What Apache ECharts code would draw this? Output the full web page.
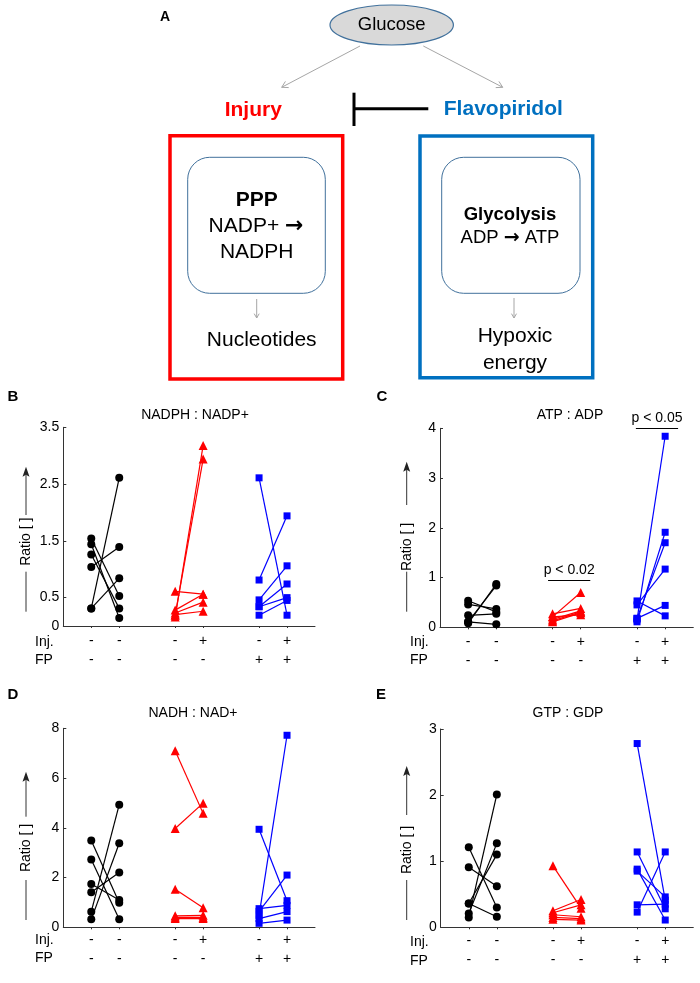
<!DOCTYPE html>
<html>
<head>
<meta charset="utf-8">
<script src="https://cdn.jsdelivr.net/npm/echarts@6/dist/echarts.min.js"></script>
<style>html,body{margin:0;padding:0;background:#fff}#c{width:700px;height:983px}</style>
</head>
<body>
<div id="c"></div>
<script>
// ---- Data ----
const positions = [1, 2, 4, 5, 7, 8];
const injSigns = ['-', '-', '-', '+', '-', '+'];
const fpSigns  = ['-', '-', '-', '-', '+', '+'];
const panelTitles = ['NADPH : NADP+', 'ATP : ADP', 'NADH : NAD+', 'GTP : GDP'];

// Panel B: NADPH : NADP+
const B_ctrl_pre = [0.31, 1.04, 0.31, 1.54, 1.44, 1.26];
const B_ctrl_post = [2.61, 1.39, 0.84, 0.53, 0.14, 0.31];
const B_inj_pre = [0.16, 0.19, 0.61, 0.28, 0.23, 0.20];
const B_inj_post = [3.18, 2.94, 0.56, 0.56, 0.42, 0.26];
const B_fp_pre = [2.61, 0.81, 0.46, 0.34, 0.34, 0.19];
const B_fp_post = [0.19, 1.94, 1.06, 0.74, 0.50, 0.45];
const B_ticks = [0, 0.5, 1.5, 2.5, 3.5];

// Panel C: ATP : ADP
const C_ctrl_pre = [0.08, 0.11, 0.535, 0.46, 0.24, 0.11];
const C_ctrl_post = [0.87, 0.84, 0.31, 0.37, 0.27, 0.06];
const C_inj_pre = [0.21, 0.27, 0.16, 0.11, 0.21, 0.13];
const C_inj_post = [0.70, 0.38, 0.33, 0.29, 0.25, 0.31];
const C_fp_pre = [0.15, 0.11, 0.18, 0.45, 0.53, 0.18];
const C_fp_post = [3.84, 1.91, 1.70, 1.17, 0.23, 0.44];
const C_ticks = [0, 1, 2, 3, 4];

// Panel D: NADH : NAD+
const D_ctrl_pre = [0.63, 0.32, 1.41, 3.49, 2.73, 1.74];
const D_ctrl_post = [4.93, 3.38, 2.20, 0.99, 0.32, 1.10];
const D_inj_pre = [7.10, 3.97, 1.53, 0.46, 0.40, 0.35];
const D_inj_post = [4.58, 4.99, 0.79, 0.48, 0.40, 0.35];
const D_fp_pre = [3.94, 0.48, 0.64, 0.75, 0.35, 0.16];
const D_fp_post = [1.07, 7.72, 2.10, 0.88, 0.63, 0.29];
const D_ticks = [0, 2, 4, 6, 8];

// Panel E: GTP : GDP
const E_ctrl_pre = [0.15, 0.21, 0.36, 1.21, 0.91, 0.36];
const E_ctrl_post = [2.01, 1.27, 1.10, 0.30, 0.62, 0.16];
const E_inj_pre = [0.93, 0.25, 0.22, 0.19, 0.15, 0.12];
const E_inj_post = [0.29, 0.42, 0.34, 0.16, 0.13, 0.11];
const E_fp_pre = [2.78, 1.14, 0.88, 0.85, 0.23, 0.34];
const E_fp_post = [0.41, 0.28, 0.11, 0.46, 1.14, 0.35];
const E_ticks = [0, 1, 2, 3];

// p-value annotations (panel C)
const pLabels = ['p < 0.02', 'p < 0.05'];

// ---- Build ----
const FONT = "'Liberation Sans', Arial, Helvetica, sans-serif";
const ARROWFONT = "'DejaVu Sans', sans-serif";
const chart = echarts.init(document.getElementById('c'), null, {renderer: 'canvas'});

const panels = [
  {grid: {left: 63.3, right: 385, top: 427.3, bottom: 357}, ticks: B_ticks, margin: 6,
   groups: [[B_ctrl_pre, B_ctrl_post], [B_inj_pre, B_inj_post], [B_fp_pre, B_fp_post]]},
  {grid: {left: 440, right: 6.7, top: 428.3, bottom: 355.7}, ticks: C_ticks, margin: 6,
   groups: [[C_ctrl_pre, C_ctrl_post], [C_inj_pre, C_inj_post], [C_fp_pre, C_fp_post]]},
  {grid: {left: 63.3, right: 385, top: 728.3, bottom: 55.7}, ticks: D_ticks, margin: 4,
   groups: [[D_ctrl_pre, D_ctrl_post], [D_inj_pre, D_inj_post], [D_fp_pre, D_fp_post]]},
  {grid: {left: 440.7, right: 6.7, top: 729, bottom: 55.7}, ticks: E_ticks, margin: 5,
   groups: [[E_ctrl_pre, E_ctrl_post], [E_inj_pre, E_inj_post], [E_fp_pre, E_fp_post]]}
];

const groupStyle = [
  {color: '#000000', symbol: 'circle', size: 8},
  {color: '#ff0000', symbol: 'triangle', size: 9},
  {color: '#0000ff', symbol: 'rect', size: 7}
];

const grids = [], xAxes = [], yAxes = [], series = [];
panels.forEach((p, pi) => {
  grids.push(Object.assign({containLabel: false}, p.grid));
  xAxes.push({
    type: 'value', gridIndex: pi, min: 0, max: 9,
    axisLine: {lineStyle: {color: '#333', width: 1}},
    axisTick: {show: true, customValues: positions, length: 2, lineStyle: {color: '#333'}},
    splitLine: {show: false},
    axisLabel: {
      customValues: positions, margin: p.margin,
      fontFamily: FONT, fontSize: 14, color: '#000', lineHeight: 18.5, align: 'center',
      formatter: v => { const i = positions.indexOf(v); return injSigns[i] + '\n' + fpSigns[i]; }
    }
  });
  const t = p.ticks;
  yAxes.push({
    type: 'value', gridIndex: pi, min: t[0], max: t[t.length - 1],
    axisLine: {show: true, lineStyle: {color: '#333', width: 1}},
    axisTick: {show: true, inside: true, length: 3, customValues: t, lineStyle: {color: '#333'}},
    splitLine: {show: false},
    axisLabel: {customValues: t, margin: 4, fontFamily: FONT, fontSize: 14, color: '#000'}
  });
  p.groups.forEach((g, gi) => {
    const st = groupStyle[gi];
    const x1 = positions[gi * 2], x2 = positions[gi * 2 + 1];
    g[0].forEach((a, i) => {
      series.push({
        type: 'line', xAxisIndex: pi, yAxisIndex: pi,
        data: [[x1, a], [x2, g[1][i]]],
        symbol: st.symbol, symbolSize: st.size, showSymbol: true,
        itemStyle: {color: st.color, borderWidth: 0},
        lineStyle: {color: st.color, width: 1.2},
        animation: false, silent: true, clip: false
      });
    });
  });
});

// p-value markLines in panel C
series.push({
  type: 'line', xAxisIndex: 1, yAxisIndex: 1, data: [], animation: false, silent: true,
  markLine: {
    symbol: 'none', animation: false, silent: true,
    lineStyle: {color: '#000', width: 1, type: 'solid'},
    label: {position: 'insideMiddleTop', distance: 3, fontFamily: FONT, fontSize: 14, color: '#000'},
    data: [
      [{coord: [3.84, 0.94], label: {formatter: pLabels[0]}}, {coord: [5.34, 0.94]}],
      [{coord: [6.96, 4.0], label: {formatter: pLabels[1]}}, {coord: [8.46, 4.0]}]
    ]
  }
});

// ---- Graphics (diagram + annotations) ----
const G = [];
function txt(x, y, text, size, opts) {
  opts = opts || {};
  const style = {text: text, font: (opts.bold ? 'bold ' : '') + size + 'px ' + FONT,
            fill: opts.color || '#000', textAlign: opts.align || 'center', textVerticalAlign: 'middle'};
  if (opts.rich) style.rich = opts.rich;
  G.push({type: 'text', x: x, y: y, rotation: opts.rot || 0, silent: true, style: style});
}
function line(x1, y1, x2, y2, color, w) {
  G.push({type: 'line', silent: true, shape: {x1, y1, x2, y2}, style: {stroke: color, lineWidth: w}});
}
function openArrow(x1, y1, x2, y2, color, w, hl) {
  line(x1, y1, x2, y2, color, w);
  const ang = Math.atan2(y2 - y1, x2 - x1), a = Math.PI / 6;
  G.push({type: 'polyline', silent: true, shape: {points: [
    [x2 - hl * Math.cos(ang - a), y2 - hl * Math.sin(ang - a)], [x2, y2],
    [x2 - hl * Math.cos(ang + a), y2 - hl * Math.sin(ang + a)]]},
    style: {stroke: color, lineWidth: w, fill: null}});
}
function rect(x, y, w, h, stroke, lw, r) {
  G.push({type: 'rect', silent: true, shape: {x, y, width: w, height: h, r: r || 0},
    style: {stroke: stroke, lineWidth: lw, fill: null}});
}

// Panel A
txt(165, 17, 'A', 14, {bold: true});
G.push({type: 'ellipse', silent: true, shape: {cx: 391.7, cy: 25, rx: 61.7, ry: 20},
  style: {fill: '#d9d9d9', stroke: '#41719c', lineWidth: 1.2}});
txt(391.7, 25, 'Glucose', 18.5);
openArrow(360, 46, 281.7, 87.3, '#a6a6a6', 1, 7);
openArrow(423.3, 46, 502.7, 87.3, '#a6a6a6', 1, 7);
txt(253.3, 110, 'Injury', 21, {bold: true, color: '#ff0000'});
txt(503.3, 109.3, 'Flavopiridol', 21, {bold: true, color: '#0070c0'});
line(354, 92.7, 354, 126, '#000', 3);
line(354, 108.7, 428.3, 108.7, '#000', 3);
rect(170, 135.7, 172.7, 243.3, '#ff0000', 3.5);
rect(420, 136, 172.7, 241.7, '#0070c0', 3.5);
rect(187.7, 157.3, 137.6, 136, '#41719c', 1, 22);
rect(441.7, 157.3, 138.3, 136, '#41719c', 1, 22);
txt(256.7, 200, 'PPP', 21, {bold: true});
txt(256, 226.7, '{t|NADP+ }{ar|\u2192}', 21, {rich: {
  t: {font: '21px ' + FONT, fill: '#000'},
  ar: {font: 'bold 22px ' + ARROWFONT, fill: '#000'}}});
txt(256.7, 252.3, 'NADPH', 21);
openArrow(256.7, 299, 256.7, 318, '#a6a6a6', 1, 5);
txt(261.7, 340, 'Nucleotides', 21);
txt(510, 215, 'Glycolysis', 18.5, {bold: true});
txt(510, 237.7, '{t|ADP }{ar|\u2192}{t| ATP}', 18.5, {rich: {
  t: {font: '18.5px ' + FONT, fill: '#000'},
  ar: {font: 'bold 19px ' + ARROWFONT, fill: '#000'}}});
openArrow(514, 298, 514, 318, '#a6a6a6', 1, 5);
txt(515, 336.7, 'Hypoxic', 21);
txt(515, 363.3, 'energy', 21);

// Panel letters and titles
txt(13, 397, 'B', 15, {bold: true});
txt(382, 397, 'C', 15, {bold: true});
txt(13, 695, 'D', 15, {bold: true});
txt(381, 695, 'E', 15, {bold: true});
txt(195, 415, panelTitles[0], 14);
txt(570, 415, panelTitles[1], 14);
txt(193, 713, panelTitles[2], 14);
txt(568, 713, panelTitles[3], 14);

// Inj./FP row labels
[[35, 641.7, 660], [410, 641.7, 660], [35, 940, 958.3], [410, 941.7, 961]].forEach(r => {
  txt(r[0], r[1], 'Inj.', 14, {align: 'left'});
  txt(r[0], r[2], 'FP', 14, {align: 'left'});
});

// Y-axis names with arrows
function yName(x, tcy, tip, upEnd, lowStart, lowEnd) {
  txt(x, tcy, 'Ratio [ ]', 14, {rot: Math.PI / 2});
  line(x, tip + 8, x, upEnd, '#333', 1);
  G.push({type: 'polygon', silent: true, shape: {points: [[x, tip], [x - 3.5, tip + 10], [x, tip + 8], [x + 3.5, tip + 10]]},
    style: {fill: '#222'}});
  line(x, lowStart, x, lowEnd, '#333', 1);
}
yName(26, 541.7, 466.7, 515, 571.7, 611.7);
yName(406.7, 547, 461.7, 505, 571.7, 611.7);
yName(26, 848, 771.7, 816.7, 880, 920);
yName(406.7, 850, 766, 815, 880, 920);

chart.setOption({
  animation: false,
  backgroundColor: '#ffffff',
  textStyle: {fontFamily: FONT},
  grid: grids, xAxis: xAxes, yAxis: yAxes, series: series,
  graphic: {elements: G}
});
</script>
</body>
</html>
